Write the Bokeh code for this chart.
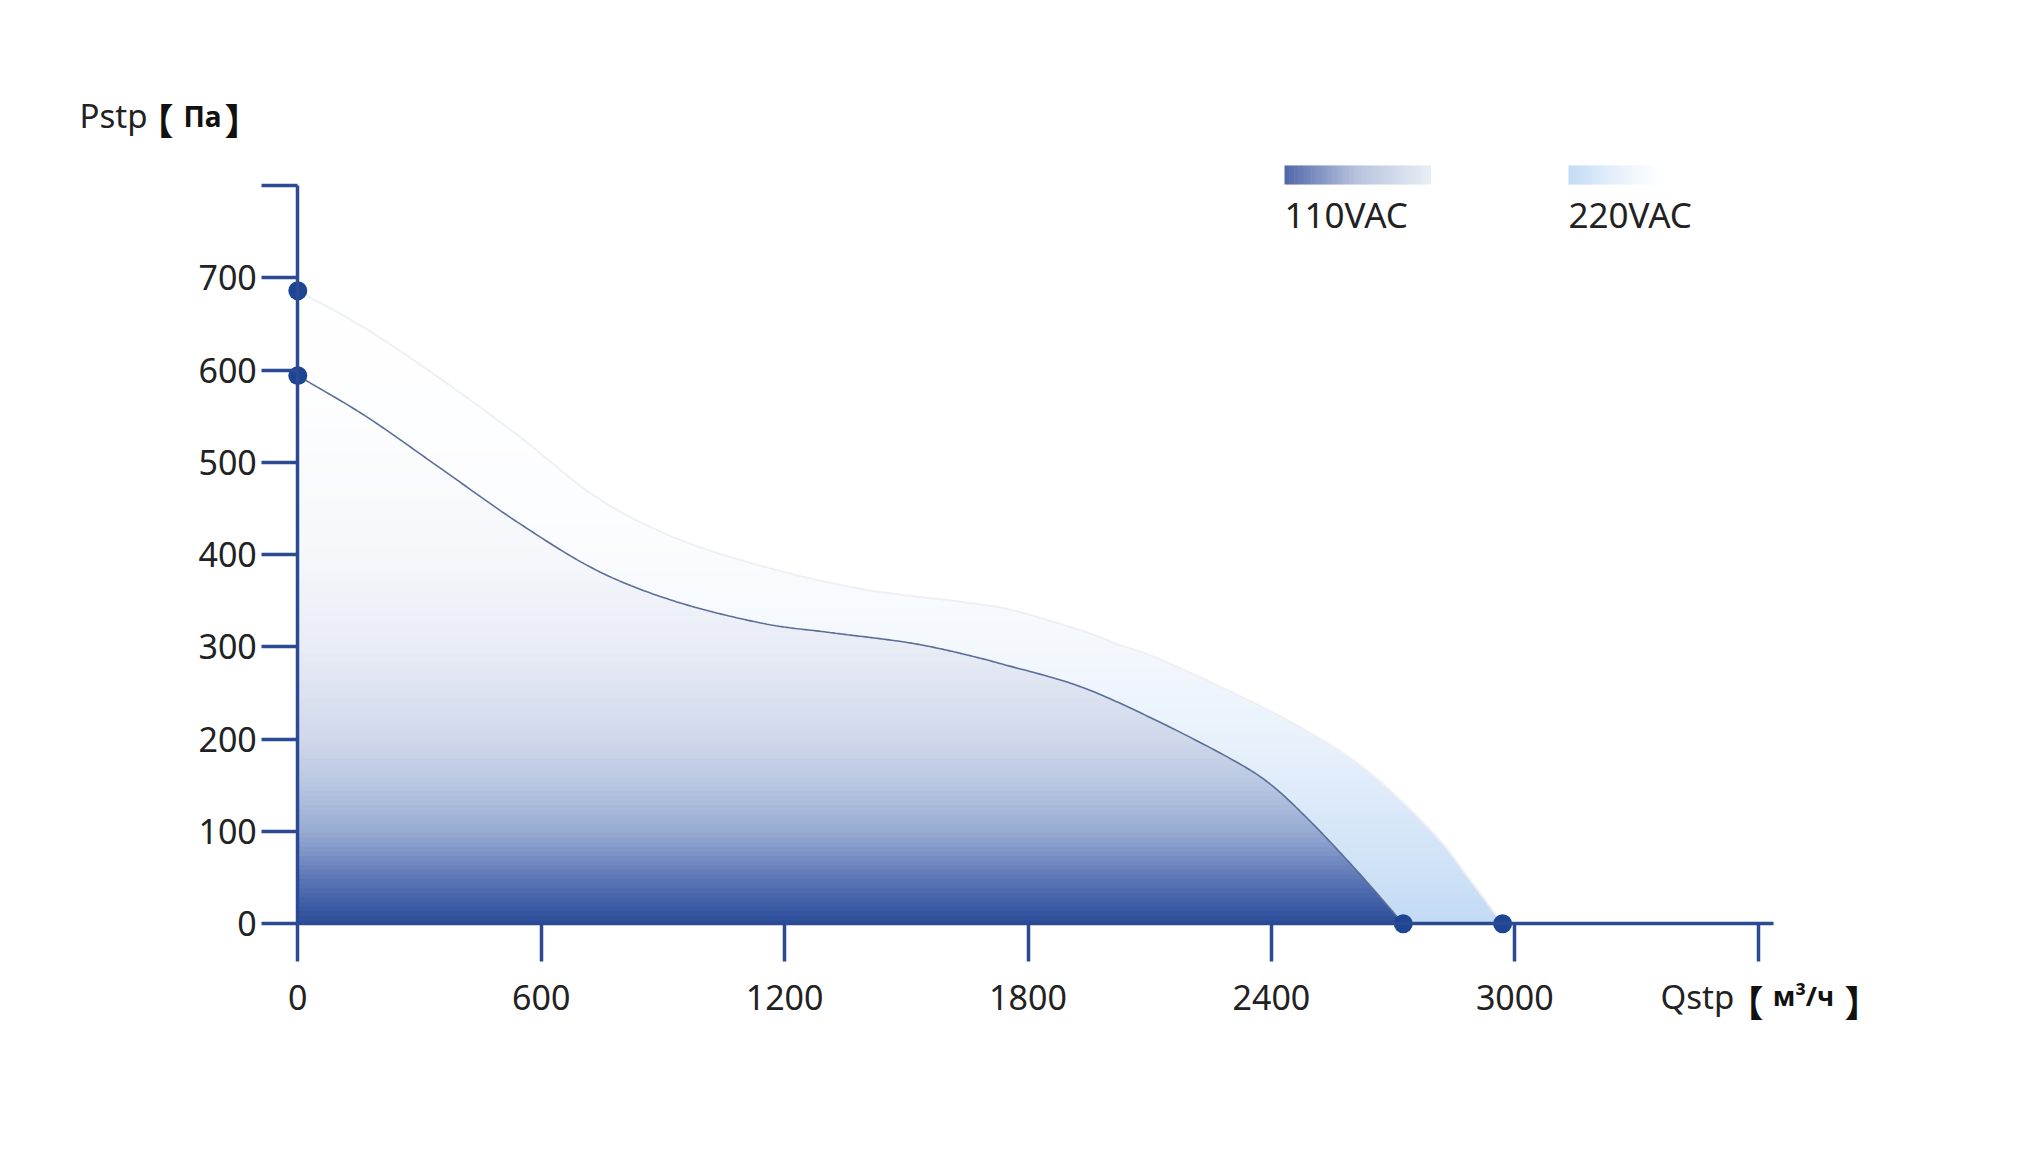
import numpy as np
from bokeh.plotting import figure
from bokeh.models import LinearAxis, FixedTicker, Label, Range1d
from bokeh.embed import file_html
from bokeh.resources import INLINE

# ---------------- data ----------------
flow_110 = [0, 171, 360, 549, 737, 926, 1141, 1305, 1469, 1551, 1634, 1740, 1929, 2118, 2307, 2401, 2496, 2593, 2660, 2725]
pres_110 = [594, 549, 491, 433, 383, 350, 326, 316, 307, 301, 293, 281, 257, 220, 177, 150, 111, 66, 33, 0]
flow_220 = [0, 171, 360, 549, 737, 926, 1141, 1387, 1634, 1760, 1929, 2028, 2118, 2307, 2471, 2636, 2800, 2882, 2970]
pres_220 = [686, 644, 588, 527, 462, 419, 388, 363, 349, 340, 318, 302, 288, 250, 213, 166, 98, 52, 0]
x_ticks = [0, 600, 1200, 1800, 2400, 3000, 3600]
x_tick_labels = ["0", "600", "1200", "1800", "2400", "3000", ""]
y_ticks = [0, 100, 200, 300, 400, 500, 600, 700, 800]
y_tick_labels = ["0", "100", "200", "300", "400", "500", "600", "700", ""]
series_names = ["110VAC", "220VAC"]
y_title = ["Pstp", "【", "Па", "】"]
x_title = ["Qstp", "【", "м³/ч", "】"]

# ---------------- styles ----------------
AXIS_COLOR = "#2b4a93"
DOT_COLOR = "#1d4593"
TEXT_COLOR = "#222222"
FONT = "Noto Sans"
CJK = "Noto Sans CJK SC"
STOPS_110 = [(0, (40, 74, 152)), (50, (92, 118, 182)), (100, (150, 170, 210)), (150, (183, 197, 225)),
             (200, (207, 216, 235)), (300, (232, 236, 245)), (400, (245, 247, 251)), (600, (255, 255, 255))]
STOPS_220 = [(0, (195, 218, 244)), (100, (214, 230, 248)), (200, (232, 241, 251)), (300, (244, 248, 253)),
             (450, (252, 253, 255)), (720, (255, 255, 255))]
LEG_110 = [(0.0, (84, 104, 170)), (0.5, (184, 196, 222)), (1.0, (232, 238, 246))]
LEG_220 = [(0.0, (196, 220, 245)), (0.6, (236, 244, 252)), (1.0, (255, 255, 255))]

# layout: pixel geometry of the page
W, H = 2010, 1138
PX_X = 0.405667      # px per flow unit
PX_Y = 0.92286       # px per pressure unit
X0_PX, Y0_PX = 297.3, 923.3   # page position of the origin
ORG = 0                        # page position of the figure's top-left corner
def px2x(px):
    return (px - X0_PX) / PX_X
def px2y(py):
    return (Y0_PX - py) / PX_Y


def grad(stops, v):
    for (a, ca), (b, cb) in zip(stops[:-1], stops[1:]):
        if v <= b:
            t = (v - a) / (b - a) if b > a else 0
            c = [int(round(ca[i] + (cb[i] - ca[i]) * max(0, min(1, t)))) for i in range(3)]
            return "#%02x%02x%02x" % tuple(c)
    return "#%02x%02x%02x" % stops[-1][1]


def smooth(xs, ys, n=24):
    # Catmull-Rom through the read points (in pixel-like space) for drawing
    P = np.column_stack([np.array(xs) * PX_X, np.array(ys) * PX_Y])
    P = np.vstack([2 * P[0] - P[1], P, 2 * P[-1] - P[-2]])
    out = []
    for i in range(1, len(P) - 2):
        p0, p1, p2, p3 = P[i - 1], P[i], P[i + 1], P[i + 2]
        t = np.linspace(0, 1, n, endpoint=False)[:, None]
        seg = 0.5 * ((2 * p1) + (-p0 + p2) * t + (2 * p0 - 5 * p1 + 4 * p2 - p3) * t ** 2 +
                     (-p0 + 3 * p1 - 3 * p2 + p3) * t ** 3)
        out.append(seg)
    out.append(P[-2][None, :])
    out = np.vstack(out)
    sx = np.maximum.accumulate(out[:, 0] / PX_X)
    sy = np.maximum(out[:, 1] / PX_Y, 0)
    return sx, sy


lx, ly = smooth(flow_110, pres_110)
ux, uy = smooth(flow_220, pres_220)

X = np.unique(np.concatenate([np.linspace(0, flow_220[-1], 700), [flow_110[-1]]]))
lower = np.interp(X, lx, ly, right=0.0)
lower[X >= flow_110[-1]] = 0.0
upper = np.interp(X, ux, uy)

p = figure(width=W, height=H, x_range=Range1d(px2x(ORG), px2x(ORG + W)),
           y_range=Range1d(px2y(ORG + H), px2y(ORG)),
           x_axis_location=None, y_axis_location=None,
           toolbar_location=None, output_backend="svg", min_border=0)
p.min_border_left = p.min_border_right = p.min_border_top = p.min_border_bottom = 0
p.outline_line_color = None
p.xgrid.visible = False
p.ygrid.visible = False
p.background_fill_color = "white"
p.border_fill_color = "white"

OV = 1.5
STEP = 5


def trimmed(mask):
    idx = np.where(mask)[0]
    if len(idx) == 0:
        return None
    a, b = max(idx[0] - 1, 0), min(idx[-1] + 2, len(X))
    return slice(a, b)


# 220VAC band (between curves), vertical gradient
for yk in range(0, 720, STEP):
    lo, hi = max(yk - OV, 0), yk + STEP
    y1 = np.clip(lower, lo, hi)
    y2 = np.clip(upper, lo, hi)
    s = trimmed(y2 > y1 + 1e-9)
    if s is None:
        continue
    p.varea(x=X[s], y1=y1[s], y2=y2[s], fill_color=grad(STOPS_220, yk + STEP / 2))

# 110VAC area, vertical gradient
for yk in range(0, 620, STEP):
    lo, hi = max(yk - OV, 0), yk + STEP
    y1 = np.minimum(lower, lo)
    y2 = np.minimum(lower, hi)
    s = trimmed(y2 > y1 + 1e-9)
    if s is None:
        continue
    p.varea(x=X[s], y1=y1[s], y2=y2[s], fill_color=grad(STOPS_110, yk + STEP / 2))

p.line(ux, uy, line_color="#eef0f3", line_width=2)
p.line(lx, ly, line_color="#5b6e98", line_width=1.6)

# axes
yax = LinearAxis(fixed_location=0, bounds=(0, y_ticks[-1]), ticker=FixedTicker(ticks=y_ticks))
yax.major_label_overrides = {t: l for t, l in zip(y_ticks, y_tick_labels)}
xax = LinearAxis(fixed_location=0, bounds=(0, px2x(1773)), ticker=FixedTicker(ticks=x_ticks))
xax.major_label_overrides = {t: l for t, l in zip(x_ticks, x_tick_labels)}
for ax in (yax, xax):
    ax.axis_line_color = AXIS_COLOR
    ax.axis_line_width = 3.5
    ax.major_tick_line_color = AXIS_COLOR
    ax.major_tick_line_width = 3.5
    ax.major_tick_in = 0
    ax.minor_tick_line_color = None
    ax.major_label_text_font = FONT
    ax.major_label_text_font_size = "34px"
    ax.major_label_text_color = TEXT_COLOR
yax.major_tick_out = 36
yax.major_label_standoff = 5
xax.major_tick_out = 38
xax.major_label_standoff = 23
p.add_layout(yax, "left")
p.add_layout(xax, "below")

# end points
p.scatter([flow_220[0], flow_110[0], flow_110[-1], flow_220[-1]],
          [pres_220[0], pres_110[0], pres_110[-1], pres_220[-1]],
          size=19, fill_color=DOT_COLOR, line_color=None)

# legend swatches with horizontal gradient
def swatch(x_left_px, x_right_px, top_px, bot_px, stops, n=60):
    xs = np.linspace(x_left_px, x_right_px, n + 1)
    lefts = [px2x(v) for v in xs[:-1]]
    rights = [px2x(v + 0.6) for v in xs[1:]]
    cols = [grad(stops, i / (n - 1)) for i in range(n)]
    p.quad(left=lefts, right=rights, top=[px2y(top_px)] * n, bottom=[px2y(bot_px)] * n,
           fill_color=cols, line_color=None)

swatch(1284, 1430, 165, 184, LEG_110)
swatch(1568, 1662, 165, 184, LEG_220)

def lab(txt, xpx, ypx, size, font=FONT, bold=False, align="left"):
    p.add_layout(Label(x=px2x(xpx), y=px2y(ypx), text=txt, text_font=font, text_font_size=size,
                       text_color="#111111" if bold else TEXT_COLOR, text_font_style="bold" if bold else "normal",
                       text_align=align, text_baseline="alphabetic"))

lab(series_names[0], 1284, 214, "35px")
lab(series_names[1], 1568, 214, "35px")

# y title  Pstp【Па】
lab(y_title[0], 79, 115, "33px")
lab(y_title[1], 155, 118, "36px", font=CJK, bold=True, align="center")
lab(y_title[2], 202, 115, "28px", bold=True, align="center")
lab(y_title[3], 242, 118, "36px", font=CJK, bold=True, align="center")

# x title  Qstp【м³/ч】
lab(x_title[0], 1660, 996, "33px")
lab(x_title[1], 1745, 1000, "36px", font=CJK, bold=True, align="center")
lab(x_title[2], 1803, 995, "27px", bold=True, align="center")
lab(x_title[3], 1862, 1000, "36px", font=CJK, bold=True, align="center")

open("out.html", "w").write(file_html(p, INLINE))
